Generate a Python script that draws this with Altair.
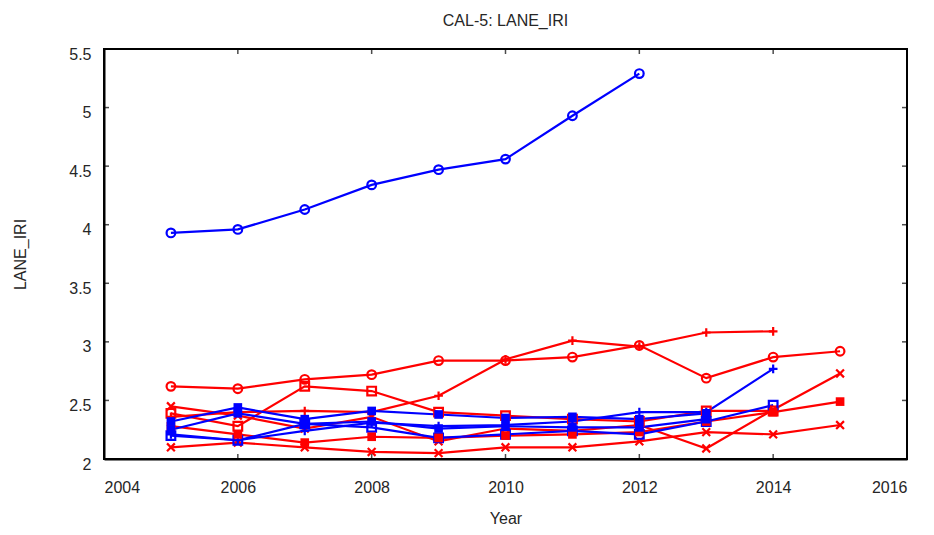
import altair as alt
import pandas as pd

years = list(range(2005, 2016))
x_ticks = [2004, 2006, 2008, 2010, 2012, 2014, 2016]
y_ticks = [2.0, 2.5, 3.0, 3.5, 4.0, 4.5, 5.0, 5.5]

# red series
red_circle = [2.62, 2.60, 2.68, 2.72, 2.84, 2.84, 2.87, 2.97, 2.69, 2.87, 2.92]
red_plus = [2.36, 2.40, 2.41, 2.40, 2.54, 2.85, 3.01, 2.96, 3.08, 3.09]
red_open_square = [2.39, 2.28, 2.62, 2.58, 2.40, 2.37, 2.34, 2.32, 2.41, 2.41]
red_x_upper = [2.45, 2.37, 2.26, 2.36, 2.15, 2.26, 2.24, 2.29, 2.09, 2.42, 2.73]
red_filled_square = [2.28, 2.21, 2.14, 2.19, 2.18, 2.20, 2.21, 2.23, 2.32, 2.40, 2.49]
red_x_lower = [2.10, 2.14, 2.10, 2.06, 2.05, 2.10, 2.10, 2.15, 2.23, 2.21, 2.29]

# blue series
blue_circle = [3.93, 3.96, 4.13, 4.34, 4.47, 4.56, 4.93, 5.29]
blue_plus = [2.21, 2.16, 2.24, 2.31, 2.28, 2.29, 2.32, 2.40, 2.40, 2.77]
blue_filled_square = [2.32, 2.44, 2.34, 2.41, 2.38, 2.35, 2.36, 2.34, 2.39]
blue_open_square = [2.20, 2.16, 2.30, 2.27, 2.18, 2.21, 2.24, 2.21, 2.32, 2.46]
blue_filled_square2 = [2.25, 2.39, 2.30, 2.32, 2.26, 2.28, 2.27, 2.27, 2.34]

RED = "#ff0000"
BLUE = "#0000ff"
PLUS = "M-1,0L1,0M0,-1L0,1"
XMARK = "M-0.9,-0.9L0.9,0.9M-0.9,0.9L0.9,-0.9"

series_specs = [
    ("r1", RED, "circle", False, red_circle),
    ("r2", RED, PLUS, False, red_plus),
    ("r3", RED, "square", False, red_open_square),
    ("r4", RED, XMARK, False, red_x_upper),
    ("r5", RED, "square", True, red_filled_square),
    ("r6", RED, XMARK, False, red_x_lower),
    ("s1", BLUE, "circle", False, blue_circle),
    ("s2", BLUE, PLUS, False, blue_plus),
    ("s3", BLUE, "square", True, blue_filled_square),
    ("s4", BLUE, "square", False, blue_open_square),
    ("s5", BLUE, "square", True, blue_filled_square2),
]

rows = []
for name, color, shape, filled, vals in series_specs:
    for yr, v in zip(years, vals):
        rows.append(dict(series=name, color=color, shape=shape,
                         filled=filled, Year=yr, LANE_IRI=v))
df = pd.DataFrame(rows)

W, H = 803, 410
FONT = "Liberation Sans"
TXT = "#262626"

x_enc = alt.X(
    "Year:Q",
    scale=alt.Scale(domain=[2004, 2016], nice=False, zero=False),
    axis=alt.Axis(values=x_ticks, format="d", ticks=False, grid=False,
                  labelFontSize=16, labelPadding=20, labelColor=TXT,
                  domainColor="black", domainWidth=2,
                  title="Year", titleFontSize=16, titleFontWeight="normal",
                  titleColor=TXT, titleY=51, titleBaseline="top"),
)
y_enc = alt.Y(
    "LANE_IRI:Q",
    scale=alt.Scale(domain=[2.0, 5.5], nice=False, zero=False),
    axis=alt.Axis(values=y_ticks, format="~g", ticks=False, grid=False,
                  labelFontSize=16, labelPadding=13, labelColor=TXT,
                  labelOffset=5,
                  domainColor="black", domainWidth=2,
                  title="LANE_IRI", titleFontSize=16, titleFontWeight="normal",
                  titleColor=TXT, titleX=-92, titleY=205,
                  titleBaseline="top", titleAlign="center"),
)

base = alt.Chart(df)
lines = base.mark_line(strokeWidth=2.2).encode(
    x=x_enc, y=y_enc,
    detail="series:N",
    color=alt.Color("color:N", scale=None),
    order="Year:Q",
)
open_pts = base.transform_filter("!datum.filled").mark_point(
    filled=False, strokeWidth=2.2, size=75, opacity=1
).encode(
    x="Year:Q", y="LANE_IRI:Q",
    color=alt.Color("color:N", scale=None),
    shape=alt.Shape("shape:N", scale=None),
)
filled_pts = base.transform_filter("datum.filled").mark_point(
    filled=True, size=75, opacity=1
).encode(
    x="Year:Q", y="LANE_IRI:Q",
    color=alt.Color("color:N", scale=None),
    shape=alt.Shape("shape:N", scale=None),
)

xt_df = pd.DataFrame({"Year": x_ticks})
yt_df = pd.DataFrame({"LANE_IRI": y_ticks})
tick_bottom = alt.Chart(xt_df).mark_tick(
    orient="vertical", size=5, thickness=1.5, color="black"
).encode(x="Year:Q", y=alt.value(H - 2.5))
tick_top = alt.Chart(xt_df).mark_tick(
    orient="vertical", size=5, thickness=1.5, color="black"
).encode(x="Year:Q", y=alt.value(2.5))
tick_left = alt.Chart(yt_df).mark_tick(
    orient="horizontal", size=5, thickness=1.5, color="black"
).encode(y="LANE_IRI:Q", x=alt.value(2.5))
tick_right = alt.Chart(yt_df).mark_tick(
    orient="horizontal", size=5, thickness=1.5, color="black"
).encode(y="LANE_IRI:Q", x=alt.value(W - 2.5))

chart = alt.layer(
    lines, open_pts, filled_pts, tick_bottom, tick_top, tick_left, tick_right
).properties(
    width=W, height=H,
    title=alt.Title("CAL-5: LANE_IRI", fontSize=16, fontWeight="normal",
                    color=TXT, font=FONT, offset=4, baseline="alphabetic"),
    autosize=alt.AutoSizeParams(type="none"),
    padding={"left": 96, "top": 41, "right": 19, "bottom": 68},
).configure(
    font=FONT,
).configure_view(
    stroke="black", strokeWidth=2,
).configure_axis(
    labelFont=FONT, titleFont=FONT,
)

chart.save("out.html", embed_options={"renderer": "svg", "actions": False})
